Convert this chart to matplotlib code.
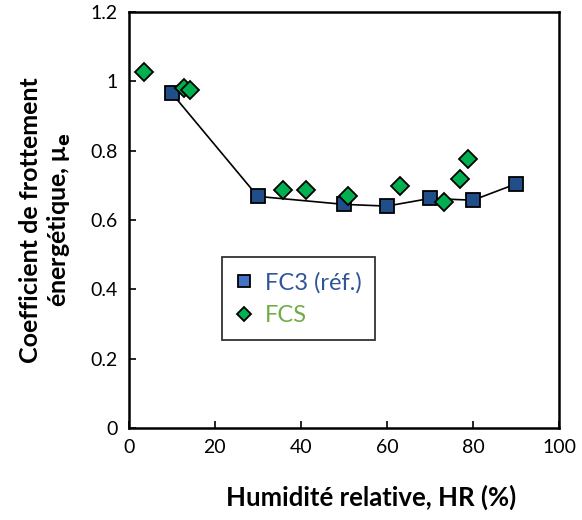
import matplotlib.pyplot as plt

# FC3 (référence) : courbe avec carrés
hr_fc3 = [10, 30, 50, 60, 70, 80, 90]
mu_fc3 = [0.966, 0.668, 0.645, 0.640, 0.662, 0.657, 0.704]

# FCS : losanges seuls
hr_fcs = [3.5, 12.8, 14.2, 35.9, 41.2, 51.0, 63.0, 73.2, 76.9, 78.8]
mu_fcs = [1.028, 0.982, 0.976, 0.685, 0.685, 0.668, 0.697, 0.651, 0.719, 0.776]

x_ticks = [0, 20, 40, 60, 80, 100]
y_ticks = [0, 0.2, 0.4, 0.6, 0.8, 1, 1.2]
y_tick_labels = ["0", "0.2", "0.4", "0.6", "0.8", "1", "1.2"]

plt.rcParams["font.family"] = ["Lato", "DejaVu Sans"]

fig = plt.figure(figsize=(5.82, 5.2), dpi=100)
ax = fig.add_axes([0.221, 0.177, 0.7395, 0.800])

ax.plot(
    hr_fc3, mu_fc3,
    color="black", linewidth=1.2,
    marker="s", markersize=10,
    markerfacecolor="#1F4E89", markeredgecolor="black", markeredgewidth=1.3,
    label="FC3 (réf.)", zorder=3
)

ax.plot(
    hr_fcs, mu_fcs,
    linestyle="none",
    marker="D", markersize=9,
    markerfacecolor="#00B050", markeredgecolor="black", markeredgewidth=1.3,
    label="FCS", zorder=4
)

ax.set_xlim(0, 100)
ax.set_ylim(0, 1.2)
ax.set_xticks(x_ticks)
ax.set_yticks(y_ticks)
ax.set_yticklabels(y_tick_labels)
ax.tick_params(direction="in", length=5, width=1.2, labelsize=14, pad=8)

for s in ax.spines.values():
    s.set_linewidth(1.8)

ax.set_xlabel("Humidité relative, HR (%)", fontsize=18.5, fontweight="bold")
ax.xaxis.set_label_coords(0.563, -0.137)
ax.set_ylabel("Coefficient de frottement\nénergétique, μ$_\\mathbf{e}$",
              fontsize=18, fontweight="bold", labelpad=12, linespacing=1.2)

# légende sans ligne pour FC3
handles = [
    plt.Line2D([], [], linestyle="none", marker="s", markersize=9,
               markerfacecolor="#4472C4", markeredgecolor="black", markeredgewidth=1.3),
    plt.Line2D([], [], linestyle="none", marker="D", markersize=7,
               markerfacecolor="#00B050", markeredgecolor="black", markeredgewidth=1.3),
]
leg = ax.legend(
    handles, ["FC3 (réf.)", "FCS"],
    loc="upper left", bbox_to_anchor=(0.217, 0.41),
    fontsize=17, frameon=True, fancybox=False,
    handlelength=0.7, handletextpad=0.5, borderpad=0.6, labelspacing=0.5,
    borderaxespad=0
)
leg.get_frame().set_edgecolor("black")
leg.get_frame().set_linewidth(1.3)
leg.get_texts()[0].set_color("#2F5597")
leg.get_texts()[1].set_color("#70AD47")

plt.savefig("out.png", dpi=100)
